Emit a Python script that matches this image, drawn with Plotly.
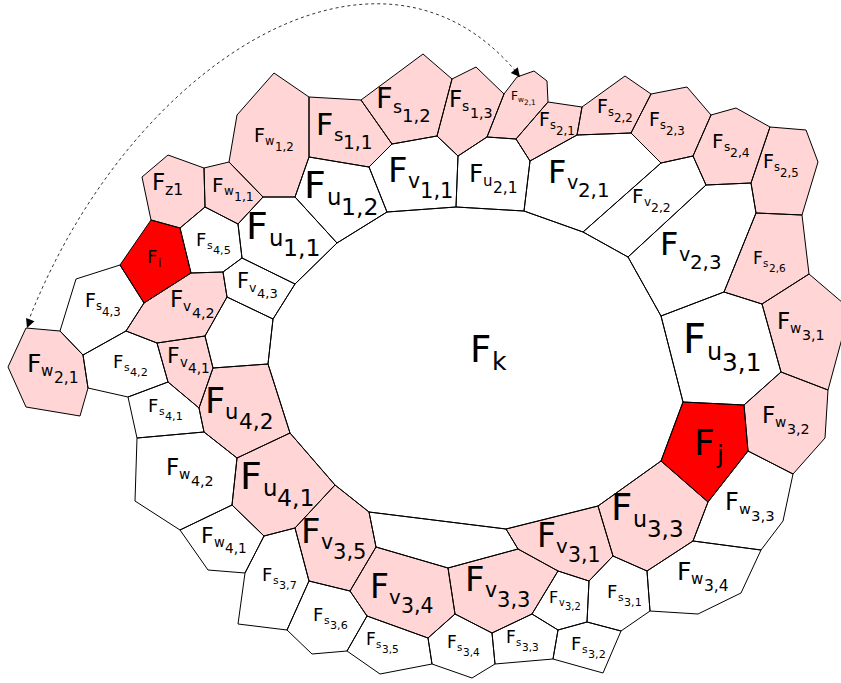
import plotly.graph_objects as go

# Face outlines in pixel space (x right, y down)
face_k = [(337, 243), (387, 212), (456, 207), (524, 211), (583, 232), (628, 257), (661, 316),
          (683, 402), (661, 461), (598, 506), (506, 529), (369, 512), (335, 485), (290, 433),
          (268, 364), (273, 319), (295, 284)]

white_faces = [
    [(309, 157), (369, 167), (387, 212), (337, 243), (295, 197)],                    # u1,2
    [(392, 144), (437, 136), (458, 156), (456, 207), (387, 212), (369, 167)],        # v1,1
    [(458, 156), (487, 137), (516, 139), (530, 161), (524, 211), (456, 207)],        # u2,1
    [(530, 161), (577, 135), (631, 133), (661, 163), (583, 232), (524, 211)],        # v2,1
    [(661, 163), (693, 156), (706, 185), (628, 257), (583, 232)],                    # v2,2
    [(706, 185), (751, 183), (756, 213), (724, 292), (661, 316), (628, 257)],        # v2,3
    [(661, 316), (724, 292), (762, 304), (781, 372), (744, 405), (683, 402)],        # u3,1
    [(748, 451), (793, 474), (783, 521), (761, 550), (693, 541), (708, 502)],        # w3,3
    [(693, 541), (761, 550), (741, 593), (698, 614), (650, 611), (647, 571)],        # w3,4
    [(613, 556), (647, 571), (650, 611), (621, 631), (587, 622), (589, 581)],        # s3,1
    [(558, 630), (587, 622), (621, 631), (603, 673), (553, 659)],                    # s3,2
    [(558, 571), (589, 581), (587, 622), (558, 630), (532, 614)],                    # v3,2
    [(492, 633), (532, 614), (558, 630), (553, 659), (495, 664)],                    # s3,3
    [(428, 638), (455, 614), (492, 633), (495, 664), (472, 678), (432, 664)],        # s3,4
    [(347, 651), (367, 616), (428, 638), (432, 664), (380, 674)],                    # s3,5
    [(287, 630), (309, 581), (350, 591), (367, 616), (347, 651), (312, 654)],        # s3,6
    [(245, 573), (264, 536), (295, 528), (309, 581), (287, 630), (238, 624)],        # s3,7
    [(180, 530), (232, 505), (264, 536), (245, 573), (208, 570)],                    # w4,1
    [(137, 438), (204, 432), (237, 458), (232, 505), (180, 530), (135, 501)],        # w4,2
    [(128, 397), (168, 382), (199, 408), (204, 432), (137, 438)],                    # s4,1
    [(83, 355), (126, 331), (157, 343), (168, 382), (128, 397), (88, 388)],          # s4,2
    [(76, 279), (120, 265), (144, 303), (126, 331), (83, 355), (60, 331)],           # s4,3
    [(180, 228), (205, 207), (238, 224), (242, 258), (223, 272), (191, 273)],        # s4,5
    [(223, 272), (242, 258), (295, 284), (273, 319), (227, 297)],                    # v4,3
    [(238, 224), (263, 197), (295, 197), (337, 243), (295, 284), (242, 258)],        # u1,1
    [(227, 297), (273, 319), (268, 364), (213, 368), (205, 336)],
    [(369, 512), (506, 529), (518, 549), (448, 568), (376, 547)],
]

pink_faces = [
    [(274, 73), (309, 97), (309, 157), (295, 197), (263, 197), (229, 162), (237, 115)],  # w1,2
    [(309, 97), (361, 100), (392, 144), (369, 167), (309, 157)],                         # s1,1
    [(361, 100), (423, 54), (452, 79), (437, 136), (392, 144)],                          # s1,2
    [(452, 79), (476, 67), (504, 94), (487, 137), (458, 156), (437, 136)],               # s1,3
    [(504, 94), (517, 77), (534, 71), (547, 81), (548, 102), (516, 139), (487, 137)],    # w2,1
    [(548, 102), (582, 107), (577, 135), (530, 161), (516, 139)],                        # s2,1
    [(582, 107), (625, 76), (651, 94), (631, 133), (577, 135)],                          # s2,2
    [(651, 94), (687, 87), (711, 115), (693, 156), (661, 163), (631, 133)],              # s2,3
    [(711, 115), (736, 108), (770, 127), (751, 183), (706, 185), (693, 156)],            # s2,4
    [(770, 127), (806, 130), (818, 162), (802, 215), (756, 213), (751, 183)],            # s2,5
    [(756, 213), (802, 215), (809, 274), (762, 304), (724, 292)],                        # s2,6
    [(762, 304), (809, 274), (850, 309), (828, 390), (781, 372)],                        # w3,1
    [(781, 372), (828, 390), (825, 438), (793, 474), (748, 451), (744, 405)],            # w3,2
    [(661, 461), (708, 502), (693, 541), (647, 571), (613, 556), (598, 506)],            # u3,3
    [(506, 529), (598, 506), (613, 556), (589, 581), (558, 571), (518, 549)],            # v3,1
    [(448, 568), (518, 549), (558, 571), (532, 614), (492, 633), (455, 614)],            # v3,3
    [(376, 547), (448, 568), (455, 614), (428, 638), (367, 616), (350, 591)],            # v3,4
    [(335, 485), (369, 512), (376, 547), (350, 591), (309, 581), (295, 528)],            # v3,5
    [(237, 458), (290, 433), (335, 485), (295, 528), (264, 536), (232, 505)],            # u4,1
    [(213, 368), (268, 364), (290, 433), (237, 458), (204, 432), (199, 408)],            # u4,2
    [(157, 343), (205, 336), (213, 368), (199, 408), (168, 382)],                        # v4,1
    [(126, 331), (144, 303), (191, 273), (223, 272), (227, 297), (205, 336), (157, 343)],  # v4,2
    [(26, 328), (60, 331), (83, 355), (88, 388), (80, 416), (26, 407), (8, 367)],        # w2,1
    [(204, 168), (229, 162), (263, 197), (238, 224), (205, 207)],                        # w1,1
    [(142, 177), (168, 155), (204, 168), (205, 207), (180, 228), (151, 220)],            # z1
]

red_faces = [
    [(151, 220), (180, 228), (191, 273), (144, 303), (120, 265)],   # i
    [(683, 402), (744, 405), (748, 451), (708, 502), (661, 461)],   # j
]

# labels: subscript letter, second-level index, ink left of F, baseline, F size
label_sub = ["w", "s", "s", "s", "w", "s", "s", "s", "s", "s", "s", "w", "u", "v", "v", "v",
             "u", "v", "u", "u", "w", "z1", "i", "s", "v", "s", "v", "v", "w", "s", "s", "u",
             "w", "w", "u", "v", "s", "s", "v", "s", "s", "v", "s", "v", "s", "v", "s", "u",
             "j", "w", "w", "w", "k"]
label_idx = ["1,2", "1,1", "1,2", "1,3", "2,1", "2,1", "2,2", "2,3", "2,4", "2,5", "2,6", "3,1",
             "3,1", "2,3", "2,2", "2,1", "2,1", "1,1", "1,2", "1,1", "1,1", "", "", "4,5", "4,3",
             "4,3", "4,2", "4,1", "2,1", "4,2", "4,1", "4,2", "4,2", "4,1", "4,1", "3,5", "3,7",
             "3,6", "3,4", "3,5", "3,4", "3,3", "3,3", "3,2", "3,2", "3,1", "3,1", "3,3", "",
             "3,2", "3,3", "3,4", ""]
label_x = [255, 318, 378, 450, 511, 540, 598, 650, 713, 764, 754, 778, 686, 662, 633, 550,
           470, 390, 307, 249, 213, 153, 148, 197, 238, 86, 171, 168, 28, 114, 149, 207,
           167, 202, 243, 303, 263, 314, 372, 367, 448, 467, 507, 550, 572, 539, 608, 614,
           697, 763, 726, 678, 473]
label_y = [142, 135, 108, 107, 100, 126, 113, 126, 148, 168, 264, 329, 353, 255, 203, 183,
           182, 182, 198, 239, 192, 190, 263, 246, 288, 307, 307, 363, 372, 368, 412, 413,
           475, 543, 489, 543, 581, 621, 598, 645, 648, 591, 643, 603, 650, 547, 598, 520,
           455, 423, 510, 580, 362]
label_size = [19, 30, 29, 23, 12, 19, 19, 19, 20, 19, 17, 23, 40, 32, 20, 32,
              25, 34, 38, 38, 20, 23, 18, 18, 21, 19, 23, 22, 25, 18, 18, 35,
              23, 22, 38, 34, 18, 18, 33, 17, 17, 34, 17, 16, 18, 33, 18, 37,
              36, 23, 24, 25, 37]

# dotted arc (cubic bezier) and arrow tips
arc_points = [(28, 322), (129, 62), (379, -95), (518, 74)]
arrow_tips = [(27, 328), (520, 77)]
arrow_dirs = [(-0.36, 0.93), (0.64, 0.77)]

PINK = "#ffd5d5"
RED = "#ff0000"
FONT = "DejaVu Sans"

ADV = {"F": 0.575, "s": 0.521, "u": 0.634, "v": 0.592, "w": 0.818, "z": 0.525,
       "i": 0.278, "j": 0.278, "k": 0.579, "1": 0.636, "2": 0.636, "3": 0.636,
       "4": 0.636, "5": 0.636, "6": 0.636, "7": 0.636, ",": 0.318}


def text_width(t, size):
    return sum(ADV.get(c, 0.6) for c in t) * size


def add_fill(fig, pts, color):
    fig.add_trace(go.Scatter(
        x=[p[0] for p in pts], y=[p[1] for p in pts],
        mode='lines', fill='toself', fillcolor=color,
        line=dict(width=0, color=color),
        hoverinfo='skip', showlegend=False
    ))


def text_ann(x, baseline, text, size):
    # annotation box centre sits ~0.35 em above the baseline for DejaVu Sans
    return dict(x=x - 1, y=baseline - 0.35 * size, xref='x', yref='y', text=text,
                showarrow=False, xanchor='left', yanchor='middle',
                font=dict(family=FONT, size=size, color='black'))


fig = go.Figure()

all_faces = [face_k] + white_faces + pink_faces + red_faces
colors = ['white'] * (1 + len(white_faces)) + [PINK] * len(pink_faces) + [RED] * len(red_faces)
for pts, col in zip(all_faces, colors):
    add_fill(fig, pts, col)

# all outlines in one trace, on top of every fill
ox, oy = [], []
for pts in all_faces:
    ox += [p[0] for p in pts] + [pts[0][0], None]
    oy += [p[1] for p in pts] + [pts[0][1], None]
fig.add_trace(go.Scatter(
    x=ox, y=oy, mode='lines', line=dict(color='black', width=1),
    hoverinfo='skip', showlegend=False
))

annotations = []
for sub, idx, lx, ly, S in zip(label_sub, label_idx, label_x, label_y, label_size):
    x0 = lx - 0.1 * S
    annotations.append(text_ann(x0, ly, "F", S))
    x1 = x0 + ADV["F"] * S + 0.02 * S
    if idx:
        s1 = 0.6 * S
        annotations.append(text_ann(x1, ly + 0.18 * S, sub, s1))
        x2 = x1 + text_width(sub, s1)
        annotations.append(text_ann(x2, ly + 0.46 * S, idx, 0.62 * S))
    else:
        annotations.append(text_ann(x1, ly + 0.22 * S, sub, 0.68 * S))

for (tx, ty), (dx, dy) in zip(arrow_tips, arrow_dirs):
    annotations.append(dict(
        x=tx, y=ty, ax=tx - 9 * dx, ay=ty - 9 * dy, xref='x', yref='y',
        axref='x', ayref='y', text='', showarrow=True, arrowhead=2,
        arrowsize=1.8, arrowwidth=1, arrowcolor='black'
    ))

p = arc_points
arc_path = "M {},{} C {},{} {},{} {},{}".format(
    p[0][0], p[0][1], p[1][0], p[1][1], p[2][0], p[2][1], p[3][0], p[3][1])

fig.update_layout(
    width=841, height=683,
    margin=dict(l=0, r=0, t=0, b=0),
    paper_bgcolor='white', plot_bgcolor='white',
    xaxis=dict(range=[0, 841], visible=False, fixedrange=True),
    yaxis=dict(range=[683, 0], visible=False, fixedrange=True),
    shapes=[dict(type='path', path=arc_path, xref='x', yref='y',
                 line=dict(color='#333333', width=1, dash='dot'))],
    annotations=annotations,
    showlegend=False
)

fig.write_html("out.html", config={'displayModeBar': False},
               post_script="document.body.style.margin='0';")
